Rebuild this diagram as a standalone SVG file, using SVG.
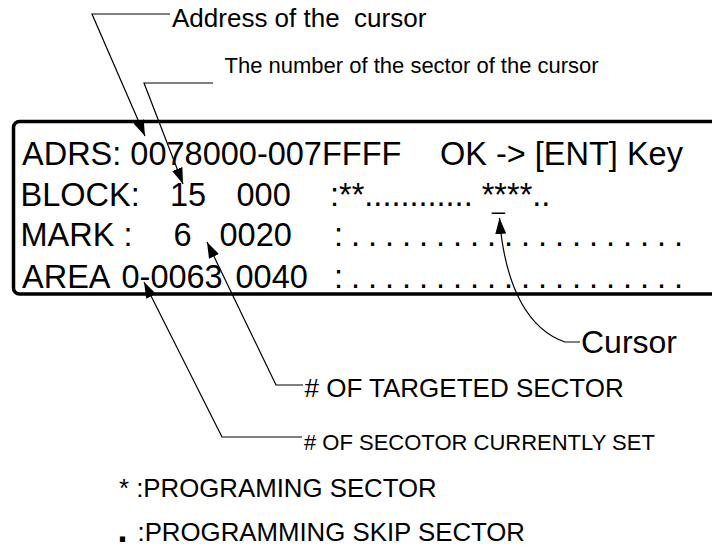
<svg xmlns="http://www.w3.org/2000/svg" width="712" height="549" viewBox="0 0 712 549">
<defs>
<style>
text { font-family: "Liberation Sans", Arial, sans-serif; fill: #000; }
.lcd { font-size: 32.5px; }
.ann { font-size: 26px; }
.ann2 { font-size: 22px; }
.leg { font-size: 25.8px; }
.lead { fill: none; stroke: #000; stroke-width: 1.2; }
</style>
<marker id="arr" markerUnits="userSpaceOnUse" markerWidth="16" markerHeight="11" refX="16" refY="5.5" orient="auto">
<path d="M0,0 L16,5.5 L0,11 z" fill="#000"/>
</marker>
</defs>
<rect width="712" height="549" fill="#fff"/>

<g id="display">
<rect x="13.5" y="121.5" width="730" height="172.5" rx="6" ry="6" fill="none" stroke="#000" stroke-width="3.5"/>
<text class="lcd" x="22" y="165">ADRS: 0078000-007FFFF</text>
<text class="lcd" x="440" y="165">OK -&gt; [ENT] Key</text>
<text class="lcd" x="20.5" y="206">BLOCK:</text>
<text class="lcd" x="170" y="206">15</text>
<text class="lcd" x="236.5" y="206">000</text>
<text class="lcd" x="330" y="206">:**............ ****..</text>
<text x="492" y="208.5" style="font-size:23px">_</text>
<text class="lcd" x="20.5" y="245.5">MARK :</text>
<text class="lcd" x="173.5" y="245.5">6</text>
<text class="lcd" x="219.5" y="245.5">0020</text>
<text class="lcd" x="334" y="245.5" textLength="349" lengthAdjust="spacing">: . . . . . . . . . . . . . . . . . . . .</text>
<text class="lcd" x="22" y="288">AREA</text>
<text class="lcd" x="121.5" y="288">0-0063</text>
<text class="lcd" x="235.5" y="288">0040</text>
<text class="lcd" x="334" y="288" textLength="349" lengthAdjust="spacing">: . . . . . . . . . . . . . . . . . . . .</text>
</g>

<g id="label-address">
<text class="ann" x="172" y="27" xml:space="preserve">Address of the  cursor</text>
</g>
<g id="label-sector-number">
<text class="ann2" x="224.5" y="73">The number of the sector of the cursor</text>
</g>
<g id="label-cursor">
<text class="lcd" x="581" y="353" style="font-size:32px">Cursor</text>
</g>
<g id="label-targeted">
<text class="ann" x="304.5" y="397"># OF TARGETED SECTOR</text>
</g>
<g id="label-current">
<text class="ann2" x="304" y="450"># OF SECOTOR CURRENTLY SET</text>
</g>
<g id="legend">
<text class="leg" x="119" y="497">* :PROGRAMING SECTOR</text>
<text x="117.5" y="542" style="font-size:36px;font-weight:bold">.</text>
<text class="leg" x="137.5" y="541">:PROGRAMMING SKIP SECTOR</text>
</g>

<g id="connectors">
<polyline class="lead" points="170,14 92,14 145,136" marker-end="url(#arr)"/>
<polyline class="lead" points="213,83 144,83 183,184" marker-end="url(#arr)"/>
<polyline class="lead" points="303,385 276,385 207,242" marker-end="url(#arr)"/>
<polyline class="lead" points="302,437 222,437 144,282" marker-end="url(#arr)"/>
<path class="lead" d="M580,342 L565,342 C530,330 505,290 499.5,218" marker-end="url(#arr)"/>
</g>
</svg>
